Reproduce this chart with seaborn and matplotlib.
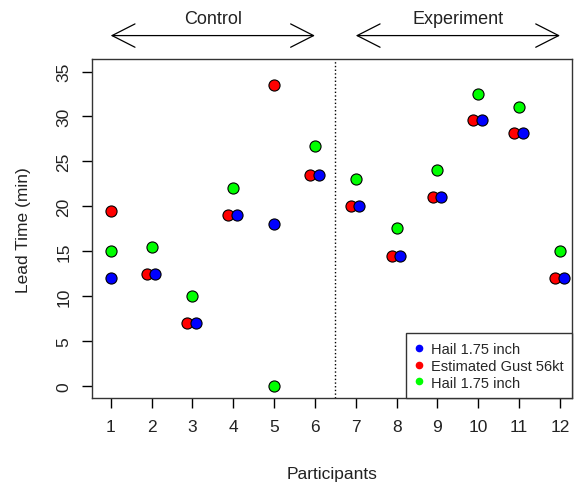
import matplotlib.pyplot as plt
import seaborn as sns
import pandas as pd
from matplotlib.lines import Line2D

# Lead time (min) per participant
participants = [1, 2, 3, 4, 5, 6, 7, 8, 9, 10, 11, 12]
hail_blue = [12, 12.5, 7, 19, 18, 23.5, 20, 14.5, 21, 29.6, 28.1, 12]
gust_red = [19.5, 12.5, 7, 19, 33.5, 23.5, 20, 14.5, 21, 29.6, 28.1, 12]
hail_green = [15, 15.5, 10, 22, 0, 26.7, 23, 17.6, 24, 32.5, 31, 15]
labels = ["Hail 1.75 inch", "Estimated Gust 56kt", "Hail 1.75 inch"]
groups = ["Control", "Experiment"]

sns.set_style("white")
plt.rcParams['font.family'] = ['Liberation Sans', 'DejaVu Sans']

# shift red/blue apart where they coincide
x_red, x_blue = [], []
for p, r, b in zip(participants, gust_red, hail_blue):
    if r == b:
        x_red.append(p - 0.12)
        x_blue.append(p + 0.09)
    else:
        x_red.append(p)
        x_blue.append(p)

df_red = pd.DataFrame({"x": x_red, "y": gust_red})
df_blue = pd.DataFrame({"x": x_blue, "y": hail_blue})
df_green = pd.DataFrame({"x": participants, "y": hail_green})

fig = plt.figure(figsize=(5.74, 4.85), dpi=100)
ax = fig.add_axes([0.1608, 0.1767, 0.8362, 0.6996])

kw = dict(s=64, edgecolor="black", linewidth=0.8, legend=False, ax=ax, zorder=3)
sns.scatterplot(data=df_red, x="x", y="y", color="#ff0000", **kw)
sns.scatterplot(data=df_blue, x="x", y="y", color="#0000ff", **kw)
sns.scatterplot(data=df_green, x="x", y="y", color="#00ff00", **kw)

ax.axvline(6.5, color="black", linestyle=":", linewidth=1)

ax.set_xlim(0.55, 12.3)
ax.set_ylim(-1.4, 36.4)
ax.set_xticks(participants)
ax.set_yticks([0, 5, 10, 15, 20, 25, 30, 35])
ax.tick_params(axis="both", direction="out", length=7, width=1, color="black",
               labelsize=12.5, pad=8, labelcolor="#222222")
ax.tick_params(axis="both", bottom=True, left=True)
for lab in ax.get_yticklabels():
    lab.set_rotation(90)
    lab.set_va("center")
for s in ax.spines.values():
    s.set_color("#333333")
    s.set_linewidth(1)

ax.set_xlabel("Participants", fontsize=12.5, color="#222222")
ax.set_ylabel("Lead Time (min)", fontsize=12.5, color="#222222")
ax.xaxis.set_label_coords(0.5, -0.223)
ax.xaxis.label.set_va("center")
ax.yaxis.set_label_coords(-0.144, 0.5)
ax.yaxis.label.set_va("center")

# group arrows above the plot
trans = ax.get_xaxis_transform()
for (x0, x1), name in zip([(1, 6), (7, 12)], groups):
    ax.annotate("", xy=(x0, 1.069), xytext=(x1, 1.069), xycoords=trans,
                textcoords=trans, annotation_clip=False,
                arrowprops=dict(arrowstyle="<->,head_length=1.65,head_width=0.84",
                                color="black", lw=0.9, shrinkA=0, shrinkB=0,
                                mutation_scale=10))
    ax.text((x0 + x1) / 2, 1.118, name, transform=trans, ha="center", va="center",
            fontsize=13, color="#222222")

handles = [Line2D([], [], marker="o", linestyle="", color=c, markersize=4.5)
           for c in ["#0000ff", "#ff0000", "#00ff00"]]
leg = ax.legend(handles, labels, loc="lower right", borderaxespad=0, fontsize=10.5,
                frameon=True, fancybox=False, edgecolor="#333333", framealpha=1,
                handlelength=0.6, handletextpad=0.5, labelspacing=0.2,
                borderpad=0.6)
leg.get_frame().set_linewidth(1)

plt.savefig("out.png", dpi=100)
